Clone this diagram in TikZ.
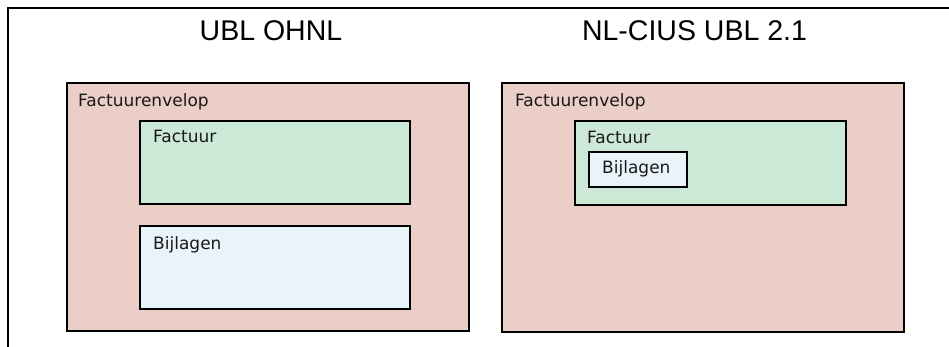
\documentclass[tikz,border=0pt]{standalone}
\usepackage{fontspec}
\setmainfont{DejaVu Sans}
\newfontfamily\titlefont{Liberation Sans}
\definecolor{envpink}{RGB}{234,206,199}
\definecolor{facgreen}{RGB}{204,232,214}
\definecolor{bijblue}{RGB}{233,243,250}
\definecolor{txtgray}{RGB}{25,25,25}
\begin{document}
\begin{tikzpicture}[x=1pt,y=-1pt,
  boxline/.style={draw=black,line width=2.6pt},
  framel/.style={draw=black,line width=2.2pt},
  envbox/.style={boxline,fill=envpink},
  facbox/.style={boxline,fill=facgreen},
  bijbox/.style={boxline,fill=bijblue},
  lbl/.style={anchor=base west,inner sep=0pt,font=\fontsize{17}{19}\selectfont,text=txtgray},
  ttl/.style={anchor=base,inner sep=0pt,font=\titlefont\fontsize{28.5}{30}\selectfont,text=black}]
\useasboundingbox (0,0) rectangle (949,347);
% frame (top and left only)
\coordinate (ftr) at (949,8);
\coordinate (ftl) at (8,8);
\coordinate (fbl) at (8,347);
\draw[framel,line cap=rect] (ftr) -- (ftl) -- (fbl);
% titles
\node[ttl] (t1) at (271,41) {UBL OHNL};
\node[ttl] (t2) at (694.5,41) {NL-CIUS UBL 2.1};
% left column
\draw[envbox] (67,83) rectangle (469,331);
\node[lbl] (e1) at (78,107) {Factuurenvelop};
\draw[facbox] (140,121) rectangle (410,204);
\node[lbl] (f1) at (153,143) {Factuur};
\draw[bijbox] (140,226) rectangle (410,309);
\node[lbl] (b1) at (153,249) {Bijlagen};
% right column
\draw[envbox] (502,83) rectangle (904,332);
\node[lbl] (e2) at (515,107) {Factuurenvelop};
\draw[facbox] (575,121) rectangle (846,205);
\node[lbl] (f2) at (587,144) {Factuur};
\draw[bijbox] (589,152) rectangle (687,187);
\node[lbl] (b2) at (602,174) {Bijlagen};
\end{tikzpicture}
\end{document}
